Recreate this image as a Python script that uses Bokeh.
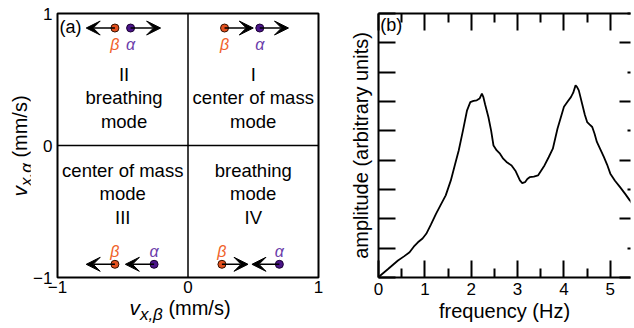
from bokeh.plotting import figure
from bokeh.layouts import row, column
from bokeh.models import (Range1d, FixedTicker, LinearAxis, Span, Arrow, VeeHead,
                          Label, ColumnDataSource, CustomLabelingPolicy, Div)
from bokeh.core.properties import value
from bokeh.embed import file_html
from bokeh.resources import INLINE

FONT = "Liberation Sans"

# ---------------- panel (a) data ----------------
quad_x = [0.5, -0.49, -0.5, 0.5]
quad_y = [0.36, 0.36, -0.365, -0.365]
quad_text = ["I\ncenter of mass\nmode", "II\nbreathing\nmode",
             "center of mass\nmode\nIII", "breathing\nmode\nIV"]

dot_y = [0.89, 0.89, -0.90, -0.90]
beta_x = [0.28, -0.56, -0.56, 0.26]
alpha_x = [0.55, -0.44, -0.26, 0.70]
beta_tip_x = [0.50, -0.78, -0.78, 0.46]
alpha_tip_x = [0.77, -0.21, -0.48, 0.49]

a_ticks = [-1, 0, 1]

# ---------------- panel (b) data ----------------
freq = [0.0, 0.04, 0.2, 0.42, 0.55, 0.67, 0.76, 0.85, 0.95, 1.03, 1.13, 1.24, 1.35,
        1.45, 1.56, 1.65, 1.73, 1.82, 1.91, 1.98, 2.05, 2.12, 2.18, 2.23, 2.26, 2.3,
        2.37, 2.43, 2.48, 2.55, 2.62, 2.69, 2.76, 2.87, 2.96, 3.05, 3.1, 3.16, 3.21,
        3.26, 3.35, 3.44, 3.51, 3.58, 3.67, 3.76, 3.86, 3.93, 4.0, 4.08, 4.15, 4.2,
        4.25, 4.28, 4.32, 4.39, 4.45, 4.5, 4.55, 4.61, 4.66, 4.71, 4.79, 4.86, 4.93,
        5.0, 5.1, 5.21, 5.32, 5.42, 5.5, 5.6]
amp = [0.0, 0.07, 0.28, 0.58, 0.72, 0.86, 1.05, 1.2, 1.33, 1.49, 1.8, 2.17, 2.5,
       2.8, 3.31, 3.85, 4.33, 5.0, 5.7, 5.98, 6.02, 6.04, 6.1, 6.27, 6.16, 5.9,
       5.47, 5.0, 4.5, 4.33, 4.22, 4.05, 3.94, 3.82, 3.62, 3.31, 3.22, 3.25, 3.36,
       3.42, 3.44, 3.48, 3.65, 3.82, 4.1, 4.39, 5.07, 5.45, 5.82, 6.0, 6.15, 6.3,
       6.55, 6.5, 6.38, 5.93, 5.55, 5.3, 5.22, 5.13, 4.9, 4.62, 4.35, 4.11, 3.85,
       3.54, 3.3, 3.08, 2.85, 2.63, 2.45, 2.3]
freq_ticks = [0, 1, 2, 3, 4, 5]
freq_minor = [0.5, 1.5, 2.5, 3.5, 4.5, 5.5]
amp_ticks = list(range(10))

BETA_FILL, BETA_TEXT = "#E4501E", "#F0622A"
ALPHA_FILL, ALPHA_TEXT = "#4A1488", "#6A3CAA"

NO_LABELS = CustomLabelingPolicy(code="return new Set()")

# ================= panel (a) =================
p1 = figure(width=300, height=300, x_range=Range1d(-1, 1), y_range=Range1d(-1, 1),
            output_backend="svg", toolbar_location=None,
            min_border_left=25, min_border_right=12, min_border_top=13, min_border_bottom=23)
p1.grid.visible = False
p1.outline_line_color = "black"
p1.outline_line_width = 2
for ax in (p1.xaxis[0], p1.yaxis[0]):
    ax.ticker = FixedTicker(ticks=a_ticks, minor_ticks=[])
    ax.major_tick_in = 0
    ax.major_tick_out = 0
    ax.minor_tick_in = 0
    ax.minor_tick_out = 0
    ax.axis_line_color = None
    ax.major_label_text_font = FONT
    ax.major_label_text_font_size = "17px"
    ax.major_label_text_color = "black"
p1.xaxis[0].major_label_standoff = 3
p1.yaxis[0].major_label_standoff = 5

p1.add_layout(Span(location=0, dimension="width", line_color="black", line_width=1.5))
p1.add_layout(Span(location=0, dimension="height", line_color="black", line_width=1.5))

p1.text(x=quad_x, y=quad_y, text=quad_text, text_align="center", text_baseline="middle",
        text_font=value(FONT), text_font_size="18.5px", text_color="black",
        text_line_height=1.12)

arrow_src = ColumnDataSource(dict(
    x0=beta_x + alpha_x, x1=beta_tip_x + alpha_tip_x, y=dot_y + dot_y))
p1.add_layout(Arrow(end=VeeHead(size=14, fill_color="black", line_color="black", line_width=1),
                    x_start="x0", y_start="y", x_end="x1", y_end="y",
                    source=arrow_src, line_width=1.5, line_color="black"))
p1.scatter(beta_x, dot_y, size=8, fill_color=BETA_FILL, line_color="#331100", line_width=1)
p1.scatter(alpha_x, dot_y, size=8, fill_color=ALPHA_FILL, line_color="#1a0033", line_width=1)

lab_y = [y - 0.125 if y > 0 else y + 0.1 for y in dot_y]
p1.text(x=beta_x, y=lab_y, text=["β"] * 4, text_align="center", text_baseline="middle",
        text_font=value(FONT), text_font_style="italic", text_font_size="16px",
        text_color=BETA_TEXT)
p1.text(x=alpha_x, y=lab_y, text=["α"] * 4, text_align="center", text_baseline="middle",
        text_font=value(FONT), text_font_style="italic", text_font_size="16px",
        text_color=ALPHA_TEXT)

p1.add_layout(Label(x=-0.985, y=0.894, text="(a)", text_baseline="middle",
                    text_font=FONT, text_font_size="18px", text_color="black"))

# axis titles of panel (a): italic symbol with subscript, as HTML
SUB = "font-size:17px;position:relative;top:5px;"
xdiv = Div(width=300, height=26, margin=0, text=(
    "<div style=\"width:300px;text-align:center;font-family:'Liberation Sans';"
    "font-size:20px;line-height:16px;color:black;white-space:nowrap;\">"
    f"<i style=\"font-size:21px;\">v</i><i style=\"{SUB}\">x,β</i> (mm/s)</div>"))
ydiv = Div(width=30, height=326, margin=0, text=(
    "<div style=\"position:relative;width:30px;height:326px;\">"
    "<div style=\"position:absolute;left:21px;top:146px;"
    "transform:translate(-50%,-50%) rotate(-90deg);white-space:nowrap;"
    "font-family:'Liberation Sans';font-size:20px;line-height:20px;color:black;\">"
    f"<i style=\"font-size:21px;\">v</i><i style=\"{SUB}\">x,α</i> (mm/s)</div></div>"))

# ================= panel (b) =================
p2 = figure(width=304, height=326, x_range=Range1d(0, 5.435), y_range=Range1d(0, 9),
            output_backend="svg", toolbar_location=None,
            min_border_left=48, min_border_right=0, min_border_top=13, min_border_bottom=49)
p2.grid.visible = False
p2.outline_line_color = None

p2.line(freq, amp, line_color="black", line_width=1.8)


def style(ax, ticks, minor, tin, mtin, labels=True):
    ax.ticker = FixedTicker(ticks=ticks, minor_ticks=minor)
    ax.major_tick_in = tin
    ax.major_tick_out = 0
    ax.minor_tick_in = mtin
    ax.minor_tick_out = 0
    ax.major_tick_line_width = 2
    ax.minor_tick_line_width = 2
    ax.axis_line_width = 2
    ax.axis_line_color = "black"
    ax.major_label_text_font = FONT
    ax.major_label_text_color = "black"
    if labels:
        ax.major_label_text_font_size = "17px"
        ax.major_label_standoff = 5
    else:
        ax.major_label_text_font_size = "1px"
        ax.major_label_standoff = 0
        ax.major_label_policy = NO_LABELS
    ax.axis_label_text_font = FONT
    ax.axis_label_text_font_size = "20px"
    ax.axis_label_text_font_style = "normal"
    ax.axis_label_text_color = "black"


xb = p2.xaxis[0]
style(xb, freq_ticks, freq_minor, 17, 9)
xb.axis_label = "frequency (Hz)"
xb.axis_label_standoff = 2

yl = p2.yaxis[0]
style(yl, amp_ticks, [], 17, 0, labels=False)
yl.axis_label = "amplitude (arbitrary units)"
yl.axis_label_standoff = 3

top = LinearAxis()
style(top, freq_ticks, freq_minor, 17, 9, labels=False)
p2.add_layout(top, "above")

right = LinearAxis()
style(right, [0, 2, 4, 6, 8], [1, 3, 5, 7, 9], 11, 3, labels=False)
right.axis_line_color = None
p2.add_layout(right, "right")

p2.add_layout(Label(x=0.04, y=8.6, text="(b)", text_baseline="middle",
                    text_font=FONT, text_font_size="18px", text_color="black"))

layout = row(ydiv, column(p1, xdiv), p2)
open("out.html", "w").write(file_html(layout, INLINE))
